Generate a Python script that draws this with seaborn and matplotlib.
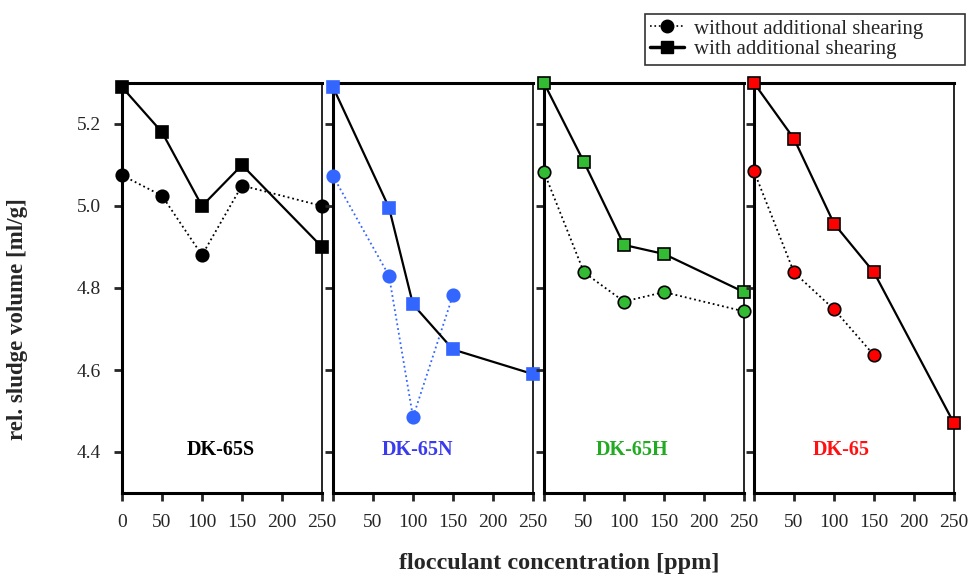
import numpy as np
import pandas as pd
import matplotlib
matplotlib.use("Agg")
import matplotlib.pyplot as plt
from matplotlib.lines import Line2D
import seaborn as sns

# data
panels = ["DK-65S", "DK-65N", "DK-65H", "DK-65"]

x_without = [
    [0, 50, 100, 150, 250],
    [0, 70, 100, 150],
    [0, 50, 100, 150, 250],
    [0, 50, 100, 150],
]
y_without = [
    [5.075, 5.025, 4.88, 5.05, 5.0],
    [5.073, 4.83, 4.485, 4.783],
    [5.083, 4.838, 4.767, 4.79, 4.743],
    [5.085, 4.838, 4.748, 4.636],
]
x_with = [
    [0, 50, 100, 150, 250],
    [0, 70, 100, 150, 250],
    [0, 50, 100, 150, 250],
    [0, 50, 100, 150, 250],
]
y_with = [
    [5.29, 5.18, 5.0, 5.1, 4.9],
    [5.29, 4.996, 4.76, 4.65, 4.59],
    [5.30, 5.107, 4.905, 4.883, 4.79],
    [5.30, 5.164, 4.957, 4.838, 4.47],
]

marker_colors = ["black", "#3366ff", "#33bb33", "#ff0000"]
marker_edges = ["black", "#3366ff", "black", "black"]
dot_line_colors = ["black", "#3366ff", "black", "black"]
label_colors = ["black", "#3a3aee", "#22aa22", "#ff1111"]
label_xpos = [0.495, 0.425, 0.44, 0.435]

sns.set_style("ticks")
plt.rcParams["font.family"] = ["Liberation Serif", "DejaVu Serif"]

fig = plt.figure(figsize=(9.71, 5.76), dpi=100)

lefts = [122, 333, 544, 754]
for i, name in enumerate(panels):
    ax = fig.add_axes([lefts[i] / 971, 1 - 493 / 576, 200 / 971, 410 / 576])

    sns.lineplot(x=x_without[i], y=y_without[i], ax=ax, color=dot_line_colors[i],
                 linestyle=":", linewidth=1.3, marker="o", markersize=9,
                 markerfacecolor=marker_colors[i], markeredgecolor=marker_edges[i],
                 markeredgewidth=1.2, clip_on=False, zorder=3)
    sns.lineplot(x=x_with[i], y=y_with[i], ax=ax, color="black",
                 linestyle="-", linewidth=1.6, marker="s", markersize=8.5,
                 markerfacecolor=marker_colors[i], markeredgecolor=marker_edges[i],
                 markeredgewidth=1.2, clip_on=False, zorder=4)

    ax.set_xlim(0, 250)
    ax.set_ylim(4.3, 5.3)
    ax.set_xticks([0, 50, 100, 150, 200, 250])
    if i == 0:
        ax.set_xticklabels(["0", "50", "100", "150", "200", "250"])
    else:
        ax.set_xticklabels(["", "50", "100", "150", "200", "250"])
    ax.set_yticks([4.4, 4.6, 4.8, 5.0, 5.2])
    if i == 0:
        ax.set_yticklabels(["4.4", "4.6", "4.8", "5.0", "5.2"])
    else:
        ax.set_yticklabels([])
    ax.tick_params(direction="out", length=6, width=2, labelsize=14, pad=9)
    for sp in ax.spines.values():
        sp.set_visible(True)
        sp.set_linewidth(2.2)
        sp.set_color("black")
    ax.spines["right"].set_linewidth(1.2)
    ax.set_xlabel("")
    ax.set_ylabel("")

    ax.text(label_xpos[i], 0.105, name, transform=ax.transAxes, ha="center",
            va="center", fontsize=14.5, fontweight="bold", color=label_colors[i])

fig.text(18 / 971, 1 - 319 / 576, "rel. sludge volume [ml/g]", rotation=90,
         ha="center", va="center", fontsize=16.5, fontweight="bold")
fig.text(559 / 971, 1 - 563 / 576, "flocculant concentration [ppm]",
         ha="center", va="center", fontsize=17.5, fontweight="bold")

handles = [
    Line2D([], [], color="black", linestyle=":", marker="o", markersize=9,
           markerfacecolor="black", linewidth=1.2),
    Line2D([], [], color="black", linestyle="-", marker="s", markersize=9,
           markerfacecolor="black", linewidth=2.5),
]
leg = fig.legend(handles, ["without additional shearing", "with additional shearing"],
                 loc="upper left", mode="expand",
                 bbox_to_anchor=(645 / 971, 1 - 67 / 576, 320 / 971, 53 / 576),
                 fontsize=15, frameon=True, fancybox=False, borderpad=0.25,
                 labelspacing=0.05, handlelength=1.6, handletextpad=0.5,
                 borderaxespad=0)
leg.get_frame().set_edgecolor("black")
leg.get_frame().set_linewidth(1.2)

plt.savefig("out.png", dpi=100)
plt.close()
